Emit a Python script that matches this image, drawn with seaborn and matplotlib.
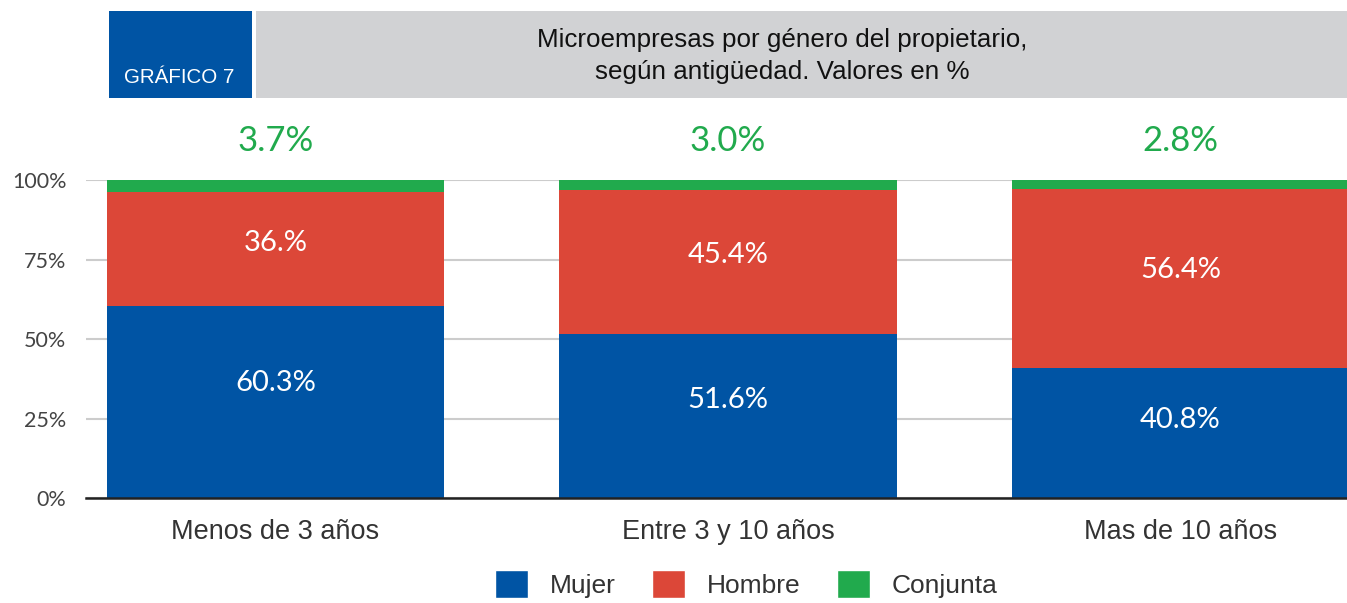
import matplotlib
matplotlib.use("Agg")
import matplotlib.pyplot as plt
import seaborn as sns
import pandas as pd
from matplotlib.patches import Rectangle, Patch

# Data
categorias = ["Menos de 3 años", "Entre 3 y 10 años", "Mas de 10 años"]
mujer = [60.3, 51.6, 40.8]
hombre = [36.0, 45.4, 56.4]
conjunta = [3.7, 3.0, 2.8]
mujer_labels = ["60.3%", "51.6%", "40.8%"]
hombre_labels = ["36.%", "45.4%", "56.4%"]
conjunta_labels = ["3.7%", "3.0%", "2.8%"]
yticks = [0, 25, 50, 75, 100]
ytick_labels = ["0%", "25%", "50%", "75%", "100%"]

AZUL = "#0054A4"
ROJO = "#DC4738"
VERDE = "#21AA4D"
GRIS = "#D1D2D4"
TXT = "#444444"

sns.set_theme(style="white")
plt.rcParams["font.family"] = ["Liberation Sans", "DejaVu Sans"]
NUM_FONT = ["Lato", "DejaVu Sans"]

df = pd.DataFrame({"cat": categorias, "mujer": mujer, "hombre": hombre, "conjunta": conjunta})
df["mh"] = df["mujer"] + df["hombre"]
df["total"] = df["mh"] + df["conjunta"]

fig = plt.figure(figsize=(13.47, 6.03), dpi=100)
ax = fig.add_axes([0.0638, 0.174, 0.9362, 0.5275])

# stacked bars drawn as cumulative totals, back to front
w = 0.745
sns.barplot(data=df, x="cat", y="total", color=VERDE, width=w, saturation=1, ax=ax)
sns.barplot(data=df, x="cat", y="mh", color=ROJO, width=w, saturation=1, ax=ax)
sns.barplot(data=df, x="cat", y="mujer", color=AZUL, width=w, saturation=1, ax=ax)
for p in ax.patches:
    p.set_edgecolor("none")
    p.set_linewidth(0)

for i in range(len(categorias)):
    ax.text(i, mujer[i] * 0.6, mujer_labels[i], ha="center", va="center",
            color="white", fontsize=21, family=NUM_FONT)
    ax.text(i, mujer[i] + hombre[i] * 0.55, hombre_labels[i], ha="center", va="center",
            color="white", fontsize=21, family=NUM_FONT)
    ax.text(i, 112.3, conjunta_labels[i], ha="center", va="center",
            color=VERDE, fontsize=25, family=NUM_FONT, clip_on=False)

ax.set_xlim(-0.419, 2.368)
ax.set_ylim(0, 100)
ax.set_yticks(yticks)
ax.set_yticklabels(ytick_labels, fontsize=15.5, color=TXT, family=NUM_FONT)
ax.tick_params(axis="y", length=0, pad=14)
ax.tick_params(axis="x", length=0, pad=15, labelsize=19.5, labelcolor="#333333")
ax.set_xlabel("")
ax.set_ylabel("")
ax.set_axisbelow(True)
ax.yaxis.grid(True, color="#CCCCCC", linewidth=1.5)
for s in ["top", "right", "left"]:
    ax.spines[s].set_visible(False)
ax.spines["bottom"].set_color("#222222")
ax.spines["bottom"].set_linewidth(1.8)

# header boxes
fig.patches.append(Rectangle((0.0809, 0.8375), 0.1062, 0.1443, transform=fig.transFigure,
                             facecolor=AZUL, edgecolor="none"))
fig.patches.append(Rectangle((0.190, 0.8375), 0.810, 0.1443, transform=fig.transFigure,
                             facecolor=GRIS, edgecolor="none"))
fig.text(0.092, 0.872, "GRÁFICO 7", color="white", fontsize=14.8, ha="left", va="center")
fig.text(0.581, 0.907, "Microempresas por género del propietario,\nsegún antigüedad. Valores en %",
         color="#111111", fontsize=18.7, ha="center", va="center", linespacing=1.45)

handles = [Patch(facecolor=AZUL, label="Mujer"),
           Patch(facecolor=ROJO, label="Hombre"),
           Patch(facecolor=VERDE, label="Conjunta")]
fig.legend(handles=handles, loc="center", bbox_to_anchor=(0.554, 0.031), ncol=3,
           frameon=False, fontsize=19, handlelength=1.25, handleheight=1.25,
           handletextpad=0.8, columnspacing=1.4, labelcolor="#333333")

fig.savefig("out.png", dpi=100)
